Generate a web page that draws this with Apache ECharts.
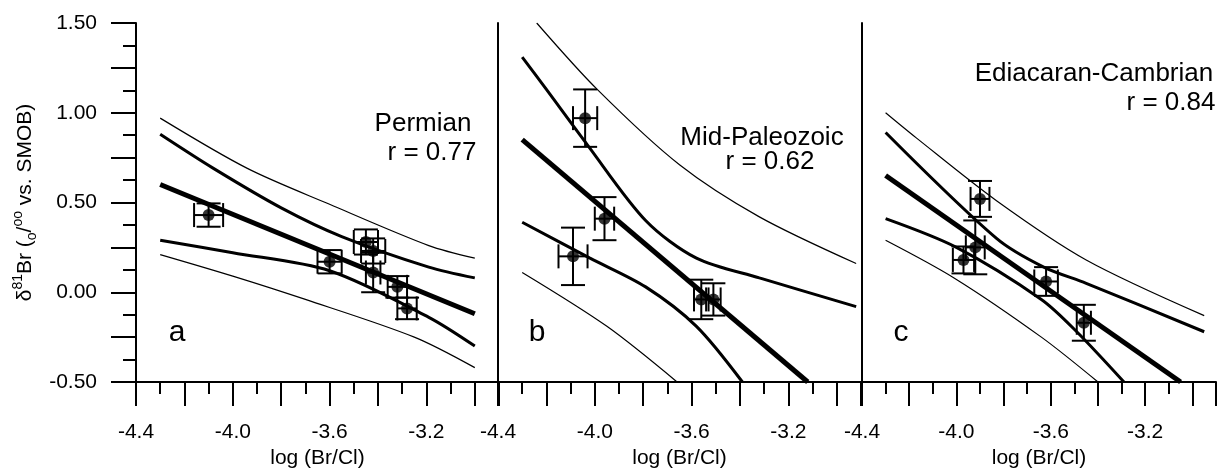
<!DOCTYPE html>
<html lang="en">
<head>
<meta charset="utf-8">
<script src="https://cdn.jsdelivr.net/npm/echarts@6/dist/echarts.min.js"></script>
<title>d81Br vs log(Br/Cl)</title>
<style>
  html, body { margin: 0; background: #fff; }
  #chart { width: 1219px; height: 474px; }
</style>
</head>
<body>
<div id="chart"></div>
<script>
// ---- data ----
// samples: [log(Br/Cl), d81Br], with x and y error half-widths
const permianPts = [[-4.10, 0.43], [-3.60, 0.17], [-3.45, 0.28], [-3.42, 0.23], [-3.42, 0.11], [-3.32, 0.03], [-3.28, -0.09]];
const permianXErr = [0.06, 0.05, 0.05, 0.05, 0.03, 0.04, 0.04];
const permianYErr = [0.065, 0.065, 0.07, 0.07, 0.11, 0.06, 0.06];
const permianFit = [[-4.30, 0.60], [-3.00, -0.12]];
const permianConfHi = [[-4.30, 0.88], [-4.08, 0.69], [-3.80, 0.47], [-3.55, 0.31], [-3.19, 0.14], [-3.00, 0.08]];
const permianConfLo = [[-4.30, 0.29], [-4.00, 0.22], [-3.60, 0.12], [-3.19, -0.14], [-3.00, -0.30]];
const permianPredHi = [[-4.30, 0.97], [-3.94, 0.69], [-3.60, 0.49], [-3.19, 0.26], [-3.00, 0.19]];
const permianPredLo = [[-4.30, 0.21], [-4.00, 0.09], [-3.70, -0.04], [-3.25, -0.25], [-3.00, -0.42]];

const midPts = [[-4.04, 0.97], [-3.96, 0.41], [-4.09, 0.20], [-3.56, -0.04], [-3.51, -0.04]];
const midXErr = [0.05, 0.04, 0.06, 0.03, 0.03];
const midYErr = [0.16, 0.12, 0.16, 0.11, 0.09];
const midFit = [[-4.30, 0.85], [-3.12, -0.50]];
const midConfHi = [[-4.30, 1.31], [-4.20, 1.13], [-4.03, 0.82], [-3.79, 0.40], [-3.58, 0.19], [-3.32, 0.08], [-2.92, -0.08]];
const midConfLo = [[-4.30, 0.39], [-4.02, 0.19], [-3.79, 0.03], [-3.58, -0.19], [-3.39, -0.50]];
const midPredHi = [[-4.24, 1.50], [-3.99, 1.13], [-3.65, 0.71], [-3.32, 0.42], [-2.92, 0.16]];
const midPredLo = [[-4.30, 0.11], [-3.95, -0.19], [-3.66, -0.50]];

const ediPts = [[-3.90, 0.52], [-3.92, 0.25], [-3.97, 0.18], [-3.62, 0.06], [-3.46, -0.17]];
const ediXErr = [0.04, 0.04, 0.045, 0.05, 0.03];
const ediYErr = [0.10, 0.15, 0.075, 0.08, 0.10];
const ediFit = [[-4.30, 0.65], [-3.05, -0.50]];
const ediConfHi = [[-4.30, 0.89], [-3.83, 0.30], [-3.63, 0.14], [-3.45, 0.05], [-2.95, -0.22]];
const ediConfLo = [[-4.30, 0.41], [-4.00, 0.25], [-3.64, -0.04], [-3.49, -0.22], [-3.29, -0.50]];
const ediPredHi = [[-4.30, 1.00], [-4.17, 0.86], [-3.83, 0.51], [-3.45, 0.18], [-2.95, -0.13]];
const ediPredLo = [[-4.30, 0.29], [-4.01, 0.08], [-3.64, -0.25], [-3.40, -0.50]];

const xTickLabels = ['-4.4', '-4.0', '-3.6', '-3.2'];
const yTickLabels = ['-0.50', '0.00', '0.50', '1.00', '1.50'];

const panelNames = ['Permian', 'Mid-Paleozoic', 'Ediacaran-Cambrian'];
const panelR = ['r = 0.77', 'r = 0.62', 'r = 0.84'];
const panelLetters = ['a', 'b', 'c'];

// ---- chart ----
const FONT = 'Liberation Sans, Arial, Helvetica, sans-serif';
const chart = echarts.init(document.getElementById('chart'));

const panels = [
  { pts: permianPts, xe: permianXErr, ye: permianYErr, fit: permianFit, ch: permianConfHi, cl: permianConfLo, ph: permianPredHi, pl: permianPredLo },
  { pts: midPts, xe: midXErr, ye: midYErr, fit: midFit, ch: midConfHi, cl: midConfLo, ph: midPredHi, pl: midPredLo },
  { pts: ediPts, xe: ediXErr, ye: ediYErr, fit: ediFit, ch: ediConfHi, cl: ediConfLo, ph: ediPredHi, pl: ediPredLo }
];

const gridLeft = [136, 498, 862];
const grids = gridLeft.map(l => ({ left: l, top: 23, width: 363, height: 363 }));

const xAxes = [];
const yAxes = [];
gridLeft.forEach((l, i) => {
  // long ticks every 0.2 with labels
  xAxes.push({
    gridIndex: i, type: 'value', min: -4.4, max: -2.9, interval: 0.2,
    axisLine: { onZero: false, lineStyle: { color: '#000', width: 2 } },
    axisTick: { length: 24, lineStyle: { color: '#000', width: 2 } },
    splitLine: { show: false },
    axisLabel: {
      margin: 40, color: '#000', fontSize: 21, fontFamily: FONT,
      formatter: v => { const s = v.toFixed(1); return xTickLabels.includes(s) ? s : ''; }
    },
    name: 'log (Br/Cl)', nameLocation: 'middle', nameGap: 66,
    nameTextStyle: { color: '#000', fontSize: 21, fontFamily: FONT }
  });
  // short ticks every 0.1
  xAxes.push({
    gridIndex: i, type: 'value', min: -4.4, max: -2.9, interval: 0.1, position: 'bottom',
    axisLine: { show: false, onZero: false },
    axisTick: { length: 12, lineStyle: { color: '#000', width: 2 } },
    splitLine: { show: false }, axisLabel: { show: false }
  });
  const y = {
    gridIndex: i, type: 'value', min: -0.5, max: 1.5, interval: 0.25,
    axisLine: { show: true, onZero: false, lineStyle: { color: '#000', width: 2 } },
    splitLine: { show: false }
  };
  if (i === 0) {
    Object.assign(y, {
      axisTick: { length: 25, lineStyle: { color: '#000', width: 2 } },
      minorTick: { show: true, splitNumber: 2, length: 13, lineStyle: { color: '#000', width: 2 } },
      axisLabel: {
        margin: 39, color: '#000', fontSize: 21, fontFamily: FONT,
        formatter: v => { const s = v.toFixed(2); return yTickLabels.includes(s) ? s : ''; }
      },
      name: '{t|δ}{s|81}{t|Br (}{b|o}{t|/}{s|oo}{t| vs. SMOB)}',
      nameLocation: 'middle', nameGap: 97, nameRotate: 90,
      nameTextStyle: {
        rich: {
          t: { fontSize: 21, fontFamily: FONT, color: '#000', lineHeight: 28, verticalAlign: 'middle' },
          s: { fontSize: 14, fontFamily: FONT, color: '#000', lineHeight: 28, verticalAlign: 'top' },
          b: { fontSize: 14, fontFamily: FONT, color: '#000', lineHeight: 28, verticalAlign: 'bottom' }
        }
      }
    });
  } else {
    Object.assign(y, { axisTick: { show: false }, axisLabel: { show: false } });
  }
  yAxes.push(y);
});

function renderErr(params, api) {
  const x = api.value(0), y = api.value(1), ex = api.value(2), ey = api.value(3);
  const top = api.coord([x, y + ey]), bot = api.coord([x, y - ey]);
  const lft = api.coord([x - ex, y]), rgt = api.coord([x + ex, y]);
  const h = 12;
  const st = { stroke: '#000', lineWidth: 2 };
  const ln = (x1, y1, x2, y2) => ({ type: 'line', shape: { x1, y1, x2, y2 }, style: st });
  return {
    type: 'group',
    children: [
      ln(bot[0], bot[1], top[0], top[1]),
      ln(top[0] - h, top[1], top[0] + h, top[1]),
      ln(bot[0] - h, bot[1], bot[0] + h, bot[1]),
      ln(lft[0], lft[1], rgt[0], rgt[1]),
      ln(lft[0], lft[1] - h, lft[0], lft[1] + h),
      ln(rgt[0], rgt[1] - h, rgt[0], rgt[1] + h)
    ]
  };
}

const series = [];
panels.forEach((p, i) => {
  const ax = { xAxisIndex: 2 * i, yAxisIndex: i };
  const curve = (data, w, smooth) => Object.assign({
    type: 'line', data, showSymbol: false, smooth: smooth ? 0.3 : false,
    lineStyle: { color: '#000', width: w }, silent: true, z: 2
  }, ax);
  series.push(curve(p.fit, 5, false));
  series.push(curve(p.ch, 3, true));
  series.push(curve(p.cl, 3, true));
  series.push(curve(p.ph, 1.2, true));
  series.push(curve(p.pl, 1.2, true));
  series.push(Object.assign({
    type: 'custom', renderItem: renderErr, z: 3,
    data: p.pts.map((d, k) => [d[0], d[1], p.xe[k], p.ye[k]])
  }, ax));
  series.push(Object.assign({
    type: 'scatter', data: p.pts, symbol: 'circle', symbolSize: 12,
    itemStyle: { color: '#000' }, z: 4
  }, ax));
});

const txt = (text, x, y, size, align) => ({
  type: 'text', x, y, style: { text, fill: '#000', font: size + 'px ' + FONT, textAlign: align || 'center', textVerticalAlign: 'middle' }
});

const option = {
  animation: false,
  backgroundColor: '#fff',
  grid: grids,
  xAxis: xAxes,
  yAxis: yAxes,
  series,
  graphic: [
    txt(panelNames[0], 423, 124, 26), txt(panelR[0], 432, 153, 26),
    txt(panelNames[1], 762, 138, 26), txt(panelR[1], 770, 162, 26),
    txt(panelNames[2], 1094, 74, 26), txt(panelR[2], 1171, 103, 26),
    txt(panelLetters[0], 177, 333, 30), txt(panelLetters[1], 537, 333, 30), txt(panelLetters[2], 901, 333, 30)
  ]
};
chart.setOption(option);
</script>
</body>
</html>
